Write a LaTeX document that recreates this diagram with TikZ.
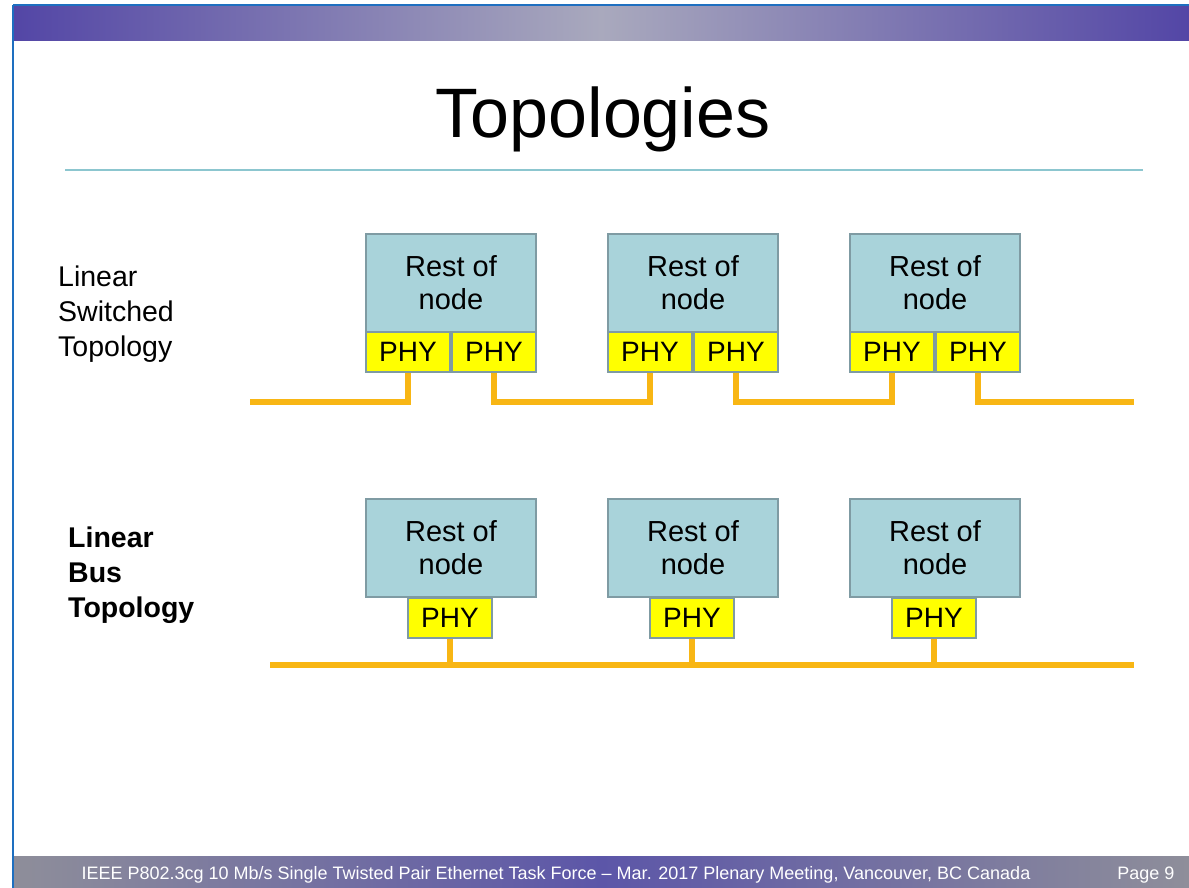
\documentclass[tikz,border=0pt]{standalone}
\usepackage{fontspec}
\setmainfont{Liberation Sans}
\definecolor{boxfill}{HTML}{A9D3DA}
\definecolor{boxline}{HTML}{7F9BA3}
\definecolor{phyfill}{HTML}{FFFF00}
\definecolor{wire}{HTML}{F8B614}
\definecolor{rule}{HTML}{8CC6CF}
\definecolor{edge}{HTML}{1E6FC0}
\definecolor{bandA}{HTML}{5346A6}
\definecolor{bandB}{HTML}{A9A9BD}
\definecolor{footA}{HTML}{8E8E9A}
\definecolor{footB}{HTML}{5C56A8}
\begin{document}
\begin{tikzpicture}[x=1pt,y=-1pt,
  restbox/.style={draw=boxline,line width=2pt,fill=boxfill,minimum width=170pt,minimum height=98pt,
    inner sep=0pt,align=center,font=\fontsize{29}{33}\selectfont},
  phybox/.style={draw=boxline,line width=2pt,fill=phyfill,minimum width=84pt,minimum height=40pt,
    inner sep=0pt,font=\fontsize{28}{30}\selectfont},
  wireline/.style={wire,line width=6pt},
  sidelabel/.style={anchor=north west,align=left,inner sep=0pt,font=\fontsize{28.5}{35}\selectfont},
  foottext/.style={text=white,font=\fontsize{18}{20}\selectfont}]
\useasboundingbox (0,0) rectangle (1189,888);
\fill[white] (0,0) rectangle (1189,888);

% header band and page frame
\shade[left color=bandA,right color=bandA,middle color=bandB] (13,6) rectangle (1189,41);
\draw[edge,line width=2pt] (13,5) -- (1189,5);
\draw[edge,line width=2pt] (13,5) -- (13,888);

% title
\node[font=\fontsize{70}{80}\selectfont,anchor=base] (title) at (603,138) {Topologies};
\draw[rule,line width=1.5pt] (65,170) -- (1143,170);

% side labels
\node[sidelabel] (lab1) at (58,266) {Linear\\Switched\\Topology};
\node[sidelabel,font=\fontsize{28.5}{35}\selectfont\bfseries] (lab2) at (68,527) {Linear\\Bus\\Topology};

% linear switched topology: two PHYs per node
\foreach \i/\x in {1/365,2/607,3/849}{
  \node[restbox,anchor=north west] (sr\i) at (\x,233) {Rest of\\node};
  \node[phybox,anchor=north west] (s\i a) at (\x,331) {PHY};
  \node[phybox,anchor=north west] (s\i b) at (\x+86,331) {PHY};
}
\coordinate (sl) at (250,402);
\coordinate (sr) at (1134,402);
\draw[wireline] (sl) -| (s1a.south);
\draw[wireline] (s1b.south) -- (s1b.south |- sl) -| (s2a.south);
\draw[wireline] (s2b.south) -- (s2b.south |- sl) -| (s3a.south);
\draw[wireline] (s3b.south) |- (sr);

% linear bus topology: one PHY per node on a shared line
\foreach \i/\x in {1/365,2/607,3/849}{
  \node[restbox,anchor=north west] (br\i) at (\x,498) {Rest of\\node};
  \node[phybox,anchor=north] (b\i) at (\x+85,597) {PHY};
}
\coordinate (bl) at (270,665);
\coordinate (bre) at (1134,665);
\draw[wireline] (bl) -- (bre);
\foreach \i in {1,2,3}{
  \draw[wireline] (b\i.south) -- (b\i.south |- bl);
}

% footer band
\shade[left color=footA,right color=footA,middle color=footB] (14,856) rectangle (1189,888);
\node[anchor=base west,foottext] (foot) at (78,879)
  {IEEE P802.3cg 10 Mb/s Single Twisted Pair Ethernet Task Force -- Mar. 2017 Plenary Meeting, Vancouver, BC Canada};
\node[anchor=base east,foottext] (page) at (1178,879) {Page 9};
\end{tikzpicture}
\end{document}
